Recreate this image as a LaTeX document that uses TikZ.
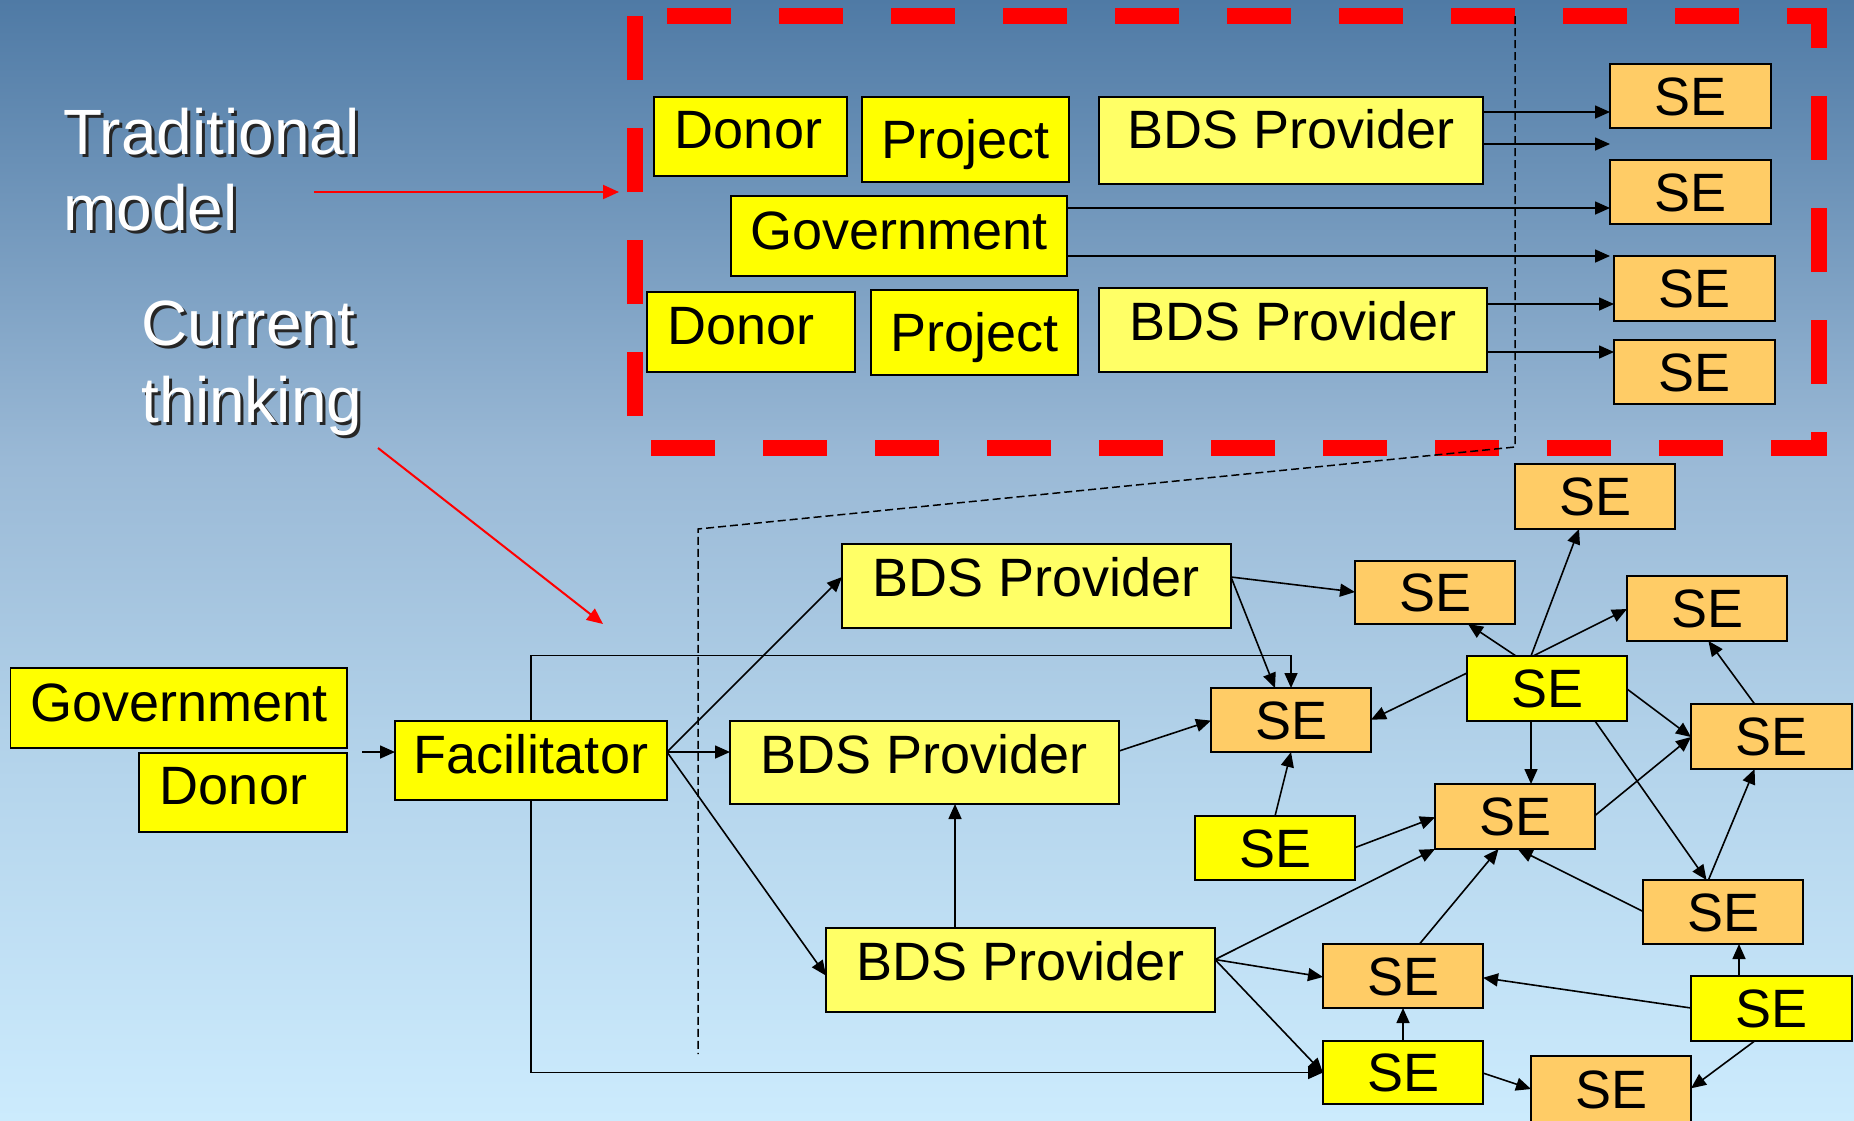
\documentclass[tikz,border=0pt]{standalone}
\usepackage{fontspec}
\setmainfont{Liberation Sans}
\usetikzlibrary{arrows.meta}
\definecolor{byel}{HTML}{FFFF00}
\definecolor{lyel}{HTML}{FFFF66}
\definecolor{ora}{HTML}{FFCC66}
\definecolor{bgA}{RGB}{79,122,165}
\definecolor{bgB}{RGB}{154,185,214}
\definecolor{bgC}{RGB}{181,213,236}
\definecolor{bgD}{RGB}{204,235,253}
\pgfdeclareverticalshading{bgshade}{100bp}{color(0bp)=(bgD); color(25bp)=(bgD); color(40.2bp)=(bgC); color(54.5bp)=(bgB); color(75bp)=(bgA); color(100bp)=(bgA)}
\newcommand\bx[8]{\node[#2, minimum width={(#5-#3)*1pt}, minimum height={(#6-#4)*1pt}, text depth=#7pt] (#1) at ({(#3+#5)/2},{(#4+#6)/2}) {#8};}
\tikzset{
  boxbase/.style={draw=black, line width=1.8pt, inner sep=0pt, outer sep=0pt, font=\fontsize{54}{60}\selectfont, text height=38.7pt},
  ybox/.style={boxbase, fill=byel},
  lbox/.style={boxbase, fill=lyel},
  obox/.style={boxbase, fill=ora},
  arr/.style={-{Triangle[length=15pt,width=13pt]}, line width=1.6pt, black},
  redarr/.style={-{Triangle[length=16pt,width=14pt]}, line width=2pt, red},
  wlab/.style={font=\fontsize{64}{76}\selectfont, text=white, anchor=base west, inner sep=0pt},
  slab/.style={wlab, text=black!85},
  thindash/.style={line width=1.5pt, dash pattern=on 8pt off 4pt, black},
  redframe/.style={line width=16pt, red, dash pattern=on 64pt off 48pt, dash phase=80pt}
}
\begin{document}
\begin{tikzpicture}[x=1pt,y=-1pt]
\useasboundingbox (0,0) rectangle (1854,1120);
\shade[shading=bgshade] (0,0) rectangle (1854,1120);

% red dashed frame
\draw[redframe] (635,16) -- (1819,16) -- (1819,448) -- (635,448) -- cycle;

% labels
\node[slab] (tradAs) at (66,157) {Traditional};
\node[wlab] (tradA) at (63,154) {Traditional};
\node[slab] (tradBs) at (66,233) {model};
\node[wlab] (tradB) at (63,230) {model};
\node[slab] (curAs) at (144.5,348) {Current};
\node[wlab] (curA) at (141.5,345) {Current};
\node[slab] (curBs) at (144.5,425) {thinking};
\node[wlab] (curB) at (141.5,422) {thinking};

\coordinate (r1s) at (314,192);
\coordinate (r1e) at (619,192);
\draw[redarr] (r1s) -- (r1e);
\coordinate (r2s) at (378,448);
\coordinate (r2e) at (603,624);
\draw[redarr] (r2s) -- (r2e);

% top (traditional) boxes
\bx{d1}{ybox}{654}{97}{847}{176}{15}{Donor\kern4pt}
\bx{p1}{ybox}{862}{97}{1069}{182}{0}{Project}
\bx{b1}{lbox}{1099}{97}{1483}{184}{23}{BDS Provider}
\bx{g1}{ybox}{731}{196}{1067}{276}{12.6}{Government}
\bx{d2}{ybox}{647}{292}{855}{372}{13}{Donor\kern20pt}
\bx{p2}{ybox}{871}{290}{1078}{375}{0}{Project}
\bx{b2}{lbox}{1099}{288}{1487}{372}{18}{BDS Provider}
\bx{s1}{obox}{1610}{64}{1771}{128}{0}{SE}
\bx{s2}{obox}{1610}{160}{1771}{224}{0}{SE}
\bx{s3}{obox}{1614}{256}{1775}{321}{0}{SE}
\bx{s4}{obox}{1614}{340}{1775}{404}{0}{SE}

\coordinate (e1) at (1610,144);
\coordinate (e2) at (1610,256);
\draw[arr] (b1.east |- 0,112) -- (s1.west |- 0,112);
\draw[arr] (b1.east |- e1) -- (e1);
\draw[arr] (g1.east |- 0,208) -- (s2.west |- 0,208);
\draw[arr] (g1.east |- e2) -- (e2);
\draw[arr] (b2.east |- 0,304) -- (s3.west |- 0,304);
\draw[arr] (b2.east |- 0,352) -- (s4.west |- 0,352);

\coordinate (gd) at (362,752);
\coordinate (fo) at (667,752);
\coordinate (fbt) at (1291,655.5);
\coordinate (dA) at (1515,16);
\coordinate (dB) at (1515,447);
\coordinate (dC) at (698,529);
\coordinate (dD) at (698,1054);

% lower boxes
\bx{gov}{ybox}{10.5}{668}{347}{748}{12}{Government}
\bx{don}{ybox}{139}{753}{347}{832}{15}{Donor\kern19pt}
\bx{fac}{ybox}{395}{721}{667}{800}{13}{Facilitator}
\bx{ba}{lbox}{842}{544}{1231}{628}{17}{BDS Provider}
\bx{bb}{lbox}{730}{721}{1119}{804}{17}{BDS Provider}
\bx{bc}{lbox}{826}{928}{1215}{1012}{17}{BDS Provider}
\bx{sA}{obox}{1211}{688}{1371}{752}{0}{SE}
\bx{sB}{ybox}{1195}{816}{1355}{880}{0}{SE}
\bx{sC}{obox}{1515}{464}{1675}{529}{0}{SE}
\bx{sD}{obox}{1355}{561}{1515}{624}{0}{SE}
\bx{sE}{obox}{1627}{576}{1787}{641}{0}{SE}
\bx{sF}{ybox}{1467}{656}{1627}{721}{0}{SE}
\bx{sG}{obox}{1691}{704}{1852}{769}{0}{SE}
\bx{sH}{obox}{1435}{784}{1595}{849}{0}{SE}
\bx{sI}{obox}{1643}{880}{1803}{944}{0}{SE}
\bx{sJ}{obox}{1323}{944}{1483}{1008}{0}{SE}
\bx{sK}{ybox}{1691}{976}{1852}{1041}{0}{SE}
\bx{sL}{ybox}{1323}{1041}{1483}{1104}{0}{SE}
\bx{sM}{obox}{1531}{1056}{1691}{1122}{0}{SE}

\draw[arr] (gd) -- (fac.west |- gd);
\draw[arr] (fo) -- (ba.west |- 0,577);
\draw[arr] (fo) -- (bb.west |- fo);
\draw[arr] (fo) -- (bc.west |- 0,975.6);
\draw[arr] (fac.north) |- (fbt) -- (fbt |- sA.north);
\draw[arr] (fac.south) |- (sL.west);
\draw[arr] (ba.east |- 0,577) -- (sA.north -| 1275,0);
\draw[arr] (ba.east |- 0,577) -- (sD.west |- 0,592);
\draw[arr] (bb.east |- 0,751) -- (sA.west |- 0,720.6);
\draw[arr] (sB.north -| 1275,0) -- (sA.south -| 1291,0);
\draw[arr] (bc.north -| 955,0) -- (bb.south -| 955,0);
\draw[arr] (bc.east |- 0,959.5) -- (sH.south west);
\draw[arr] (bc.east |- 0,959.5) -- (sJ.west |- 0,977);
\draw[arr] (bc.east |- 0,959.5) -- (sL.west |- 0,1073);
\draw[arr] (sF.north -| 1531,0) -- (sC.south -| 1579,0);
\draw[arr] (sF.north -| 1516,0) -- (sD.south -| 1468,0);
\draw[arr] (sF.north -| 1533,0) -- (sE.west |- 0,609);
\draw[arr] (sF.west |- 0,673) -- (sA.east |- 0,719.7);
\draw[arr] (sF.south -| 1531,0) -- (sH.north -| 1531,0);
\draw[arr] (sF.east |- 0,689) -- (sG.west |- 0,737);
\draw[arr] (sF.south -| 1595,0) -- (sI.north -| 1706.5,0);
\draw[arr] (sG.north -| 1754.6,0) -- (sE.south -| 1708.4,0);
\draw[arr] (sH.east |- 0,815.5) -- (sG.west |- 0,737);
\draw[arr] (sB.east |- 0,847.6) -- (sH.west |- 0,817.3);
\draw[arr] (sI.north -| 1708.4,0) -- (sG.south -| 1754.6,0);
\draw[arr] (sI.west |- 0,911.4) -- (sH.south -| 1517.7,0);
\draw[arr] (sJ.north -| 1419.5,0) -- (sH.south -| 1498.5,0);
\draw[arr] (sK.north -| 1739,0) -- (sI.south -| 1739,0);
\draw[arr] (sK.west |- 0,1008) -- (sJ.east |- 0,977.7);
\draw[arr] (sK.south -| 1754.6,0) -- (sM.east |- 0,1088.3);
\draw[arr] (sL.north -| 1403,0) -- (sJ.south -| 1403,0);
\draw[arr] (sL.east |- 0,1073) -- (sM.west |- 0,1089);

% thin dashed separator
\draw[thindash] (dA) -- (dB) -- (dC) -- (dD);
\end{tikzpicture}
\end{document}
